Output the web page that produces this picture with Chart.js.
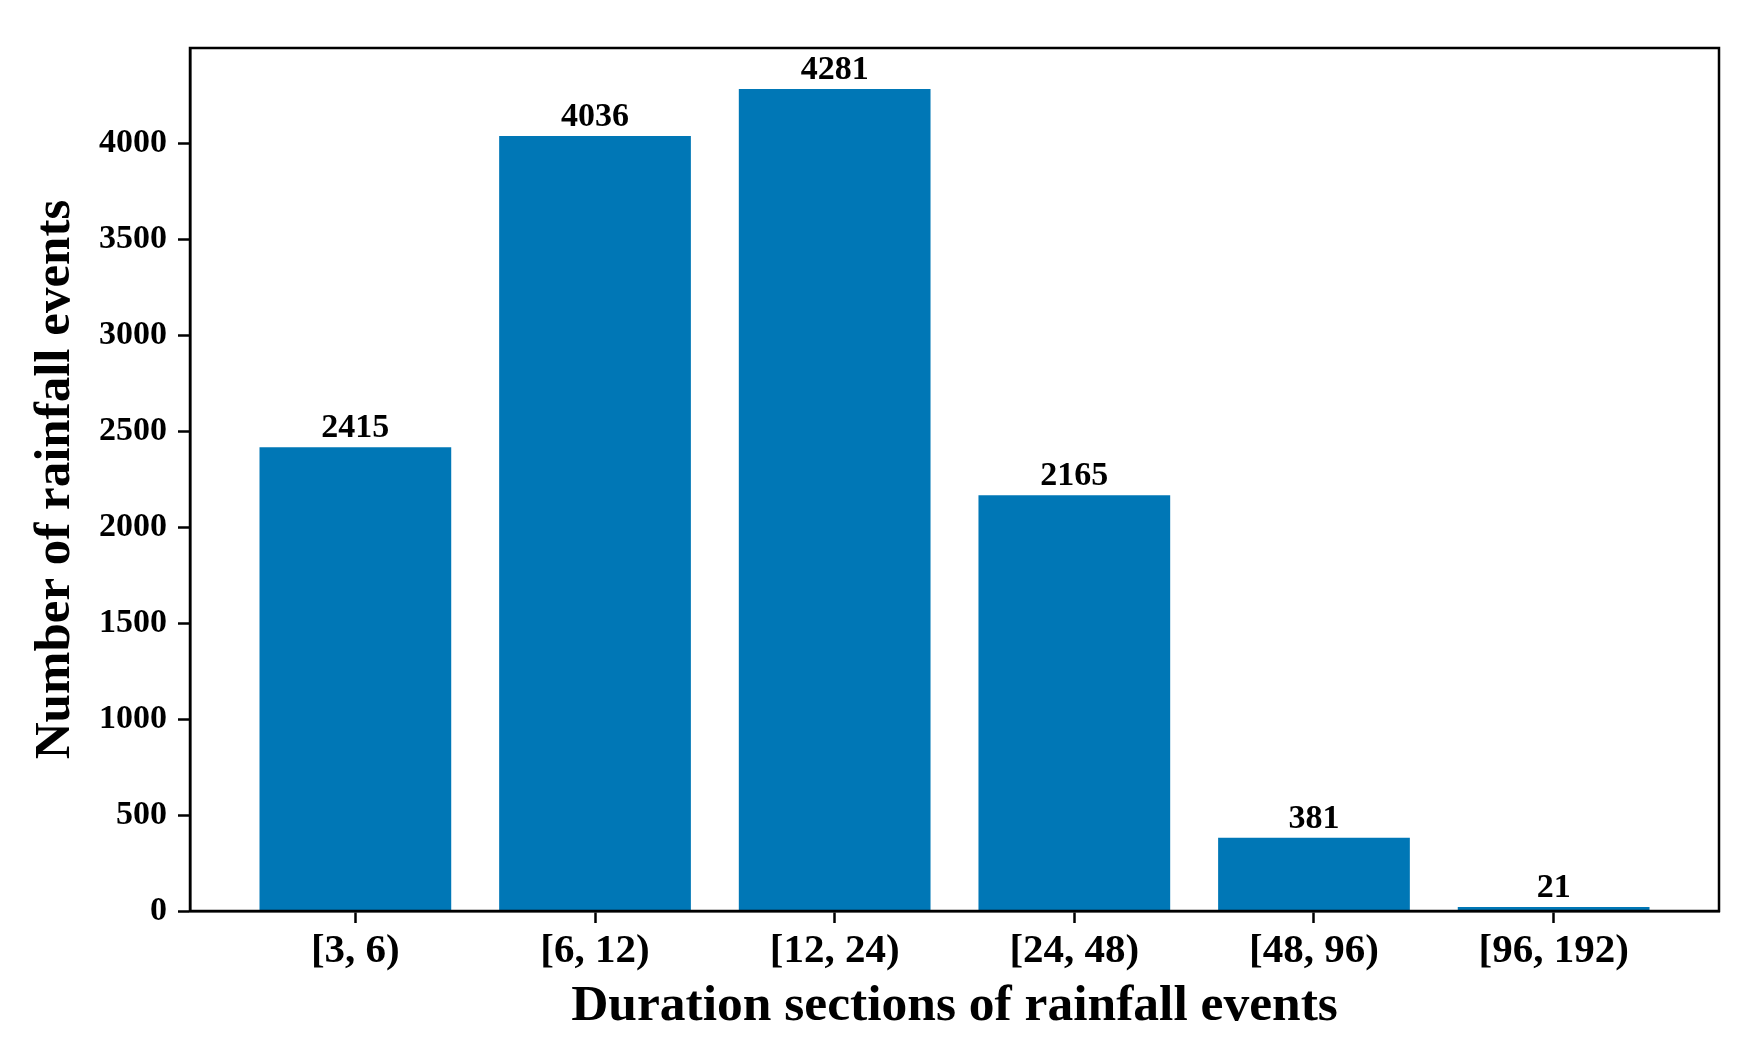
<!DOCTYPE html>
<html>
<head>
<meta charset="utf-8">
<script src="https://cdn.jsdelivr.net/npm/chart.js@4.4.1/dist/chart.umd.min.js"></script>
<style>
  html, body { margin: 0; padding: 0; background: #fff; overflow: hidden; }
  #wrap { position: relative; width: 1738px; height: 1056px; }
</style>
</head>
<body>
<div id="wrap"><canvas id="durationChart"></canvas></div>
<script>
// duration sections (hours) and number of rainfall events in each
const sections = ["[3, 6)", "[6, 12)", "[12, 24)", "[24, 48)", "[48, 96)", "[96, 192)"];
const eventCounts = [2415, 4036, 4281, 2165, 381, 21];
const yTicks = [0, 500, 1000, 1500, 2000, 2500, 3000, 3500, 4000];

const barColor = "#0077b6";
const serif = '"Liberation Serif", "Times New Roman", serif';

Chart.defaults.font.family = serif;
Chart.defaults.font.weight = "bold";
Chart.defaults.color = "#000";

// frame round the plot area, drawn over the bars like matplotlib spines
const framePlugin = {
  id: "frame",
  afterDatasetsDraw(chart) {
    const { ctx, chartArea: a } = chart;
    ctx.save();
    ctx.strokeStyle = "#000";
    ctx.lineWidth = 2.5;
    ctx.strokeRect(a.left, a.top, a.right - a.left, a.bottom - a.top);
    ctx.restore();
  },
};

// count written above each bar
const barLabelPlugin = {
  id: "barLabels",
  afterDatasetsDraw(chart) {
    const { ctx } = chart;
    const meta = chart.getDatasetMeta(0);
    ctx.save();
    ctx.font = "bold 34px " + serif;
    ctx.fillStyle = "#000";
    ctx.textAlign = "center";
    ctx.textBaseline = "alphabetic";
    meta.data.forEach((bar, i) => {
      ctx.fillText(String(eventCounts[i]), bar.x, bar.y - 10);
    });
    ctx.restore();
  },
};

const points = eventCounts.map((v, i) => ({ x: i, y: v }));

const tickGrid = {
  display: true,
  offset: false,
  drawOnChartArea: false,
  drawTicks: true,
  tickLength: 12,
  tickWidth: 2.5,
  tickColor: "#000",
};

new Chart(document.getElementById("durationChart"), {
  type: "bar",
  plugins: [framePlugin, barLabelPlugin],
  data: {
    datasets: [
      {
        data: points,
        backgroundColor: barColor,
        borderWidth: 0,
        categoryPercentage: 1,
        barPercentage: 0.8,
      },
    ],
  },
  options: {
    responsive: true,
    maintainAspectRatio: false,
    animation: false,
    layout: { padding: { top: 48, right: 19, left: 0, bottom: 0 } },
    plugins: {
      legend: { display: false },
      tooltip: { enabled: false },
    },
    scales: {
      x: {
        type: "linear",
        offset: false,
        min: -0.69,
        max: sections.length - 1 + 0.69,
        afterFit: (scale) => { scale.height = 145; },
        afterBuildTicks: (scale) => {
          scale.ticks = sections.map((_, i) => ({ value: i }));
        },
        ticks: {
          autoSkip: false,
          maxRotation: 0,
          padding: 4,
          font: { size: 41, weight: "bold" },
          callback: (v) => sections[v],
        },
        grid: tickGrid,
        border: { display: true, color: "#000", width: 2.5 },
        title: {
          display: true,
          text: "Duration sections of rainfall events",
          font: { size: 51.5, weight: "bold" },
          padding: { top: 0, bottom: 18 },
        },
      },
      y: {
        min: 0,
        max: 4495,
        afterFit: (scale) => { scale.width = 190; },
        afterBuildTicks: (scale) => {
          scale.ticks = yTicks.map((v) => ({ value: v }));
        },
        ticks: {
          padding: 11,
          font: { size: 34, weight: "bold" },
          callback: (v) => String(v),
        },
        grid: tickGrid,
        border: { display: true, color: "#000", width: 2.5 },
        title: {
          display: true,
          text: "Number of rainfall events",
          font: { size: 51, weight: "bold" },
          padding: { top: 25, bottom: 0 },
        },
      },
    },
  },
});
</script>
</body>
</html>
